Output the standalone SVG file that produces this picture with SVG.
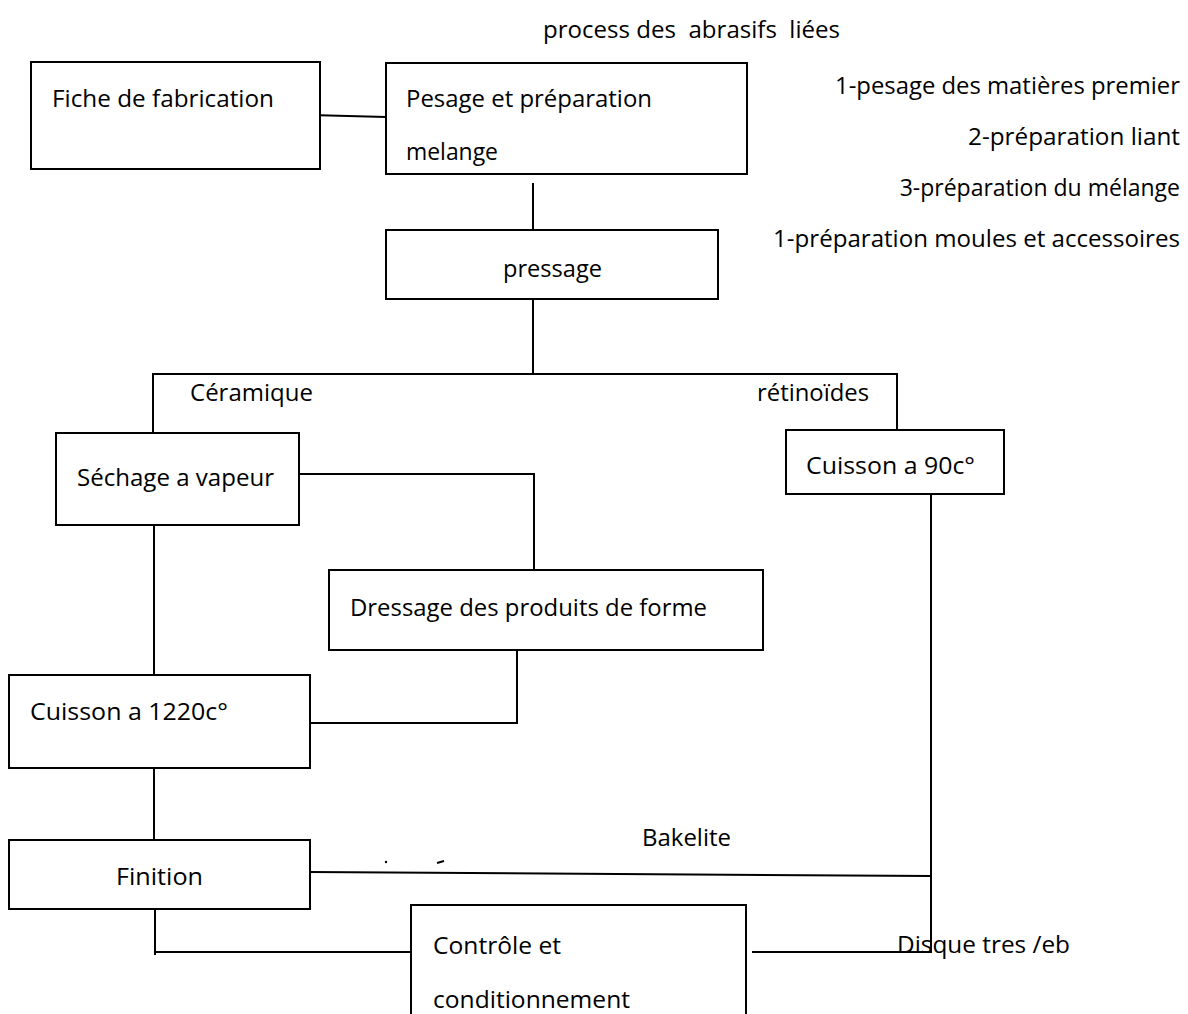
<svg xmlns="http://www.w3.org/2000/svg" width="1188" height="1014" viewBox="0 0 1188 1014">
<style>
.box{fill:#fff;stroke:#000;stroke-width:2}
.ln{fill:none;stroke:#000;stroke-width:2}
text{font-family:"Open Sans","Noto Sans","Liberation Sans",sans-serif;font-size:23px;fill:#000}
</style>
<rect width="1188" height="1014" fill="#fff"/>
<g id="labels">
<text x="543" y="38" textLength="297" lengthAdjust="spacingAndGlyphs" xml:space="preserve">process des  abrasifs  liées</text>
<text x="1180" y="94" text-anchor="end" textLength="345" lengthAdjust="spacingAndGlyphs">1-pesage des matières premier</text>
<text x="1180" y="145" text-anchor="end" textLength="212" lengthAdjust="spacingAndGlyphs">2-préparation liant</text>
<text x="1180" y="196" text-anchor="end">3-préparation du mélange</text>
<text x="1180" y="247" text-anchor="end" textLength="407" lengthAdjust="spacingAndGlyphs">1-préparation moules et accessoires</text>
<text x="190" y="401" textLength="123" lengthAdjust="spacingAndGlyphs">Céramique</text>
<text x="757" y="401" textLength="112" lengthAdjust="spacingAndGlyphs">rétinoïdes</text>
<text x="642" y="846" textLength="89" lengthAdjust="spacingAndGlyphs">Bakelite</text>
<text x="897" y="953" textLength="173" lengthAdjust="spacingAndGlyphs">Disque tres /eb</text>
</g>
<g id="connectors">
<line class="ln" x1="310" y1="115" x2="386" y2="117"/>
<line class="ln" x1="533" y1="183" x2="533" y2="230"/>
<line class="ln" x1="533" y1="283" x2="533" y2="374"/>
<polyline class="ln" points="153,433 153,374 897,374 897,430"/>
<polyline class="ln" points="286,474 534,474 534,570"/>
<line class="ln" x1="154" y1="500" x2="154" y2="675"/>
<polyline class="ln" points="517,650 517,723 311,723"/>
<line class="ln" x1="154" y1="768" x2="154" y2="840"/>
<line class="ln" x1="931" y1="485" x2="931" y2="953"/>
<line class="ln" x1="310" y1="872" x2="931" y2="876"/>
<polyline class="ln" points="155,909 155,955"/>
<line class="ln" x1="155" y1="952" x2="411" y2="952"/>
<line class="ln" x1="752" y1="952" x2="931" y2="952"/>
<circle cx="386" cy="862" r="1.2" fill="#000"/>
<line x1="437" y1="863" x2="444" y2="861" stroke="#000" stroke-width="2"/>
</g>
<g id="fiche">
<rect class="box" x="31" y="62" width="289" height="107"/>
<text x="52" y="107" textLength="222" lengthAdjust="spacingAndGlyphs">Fiche de fabrication</text>
</g>
<g id="pesage">
<rect class="box" x="386" y="63" width="361" height="111"/>
<text x="406" y="107" textLength="246" lengthAdjust="spacingAndGlyphs">Pesage et préparation</text>
<text x="406" y="160" textLength="92" lengthAdjust="spacingAndGlyphs">melange</text>
</g>
<g id="pressage">
<rect class="box" x="386" y="230" width="332" height="69"/>
<text x="503" y="277" textLength="99" lengthAdjust="spacingAndGlyphs">pressage</text>
</g>
<g id="sechage">
<rect class="box" x="56" y="433" width="243" height="92"/>
<text x="77" y="486" textLength="197" lengthAdjust="spacingAndGlyphs">Séchage a vapeur</text>
</g>
<g id="cuisson90">
<rect class="box" x="786" y="430" width="218" height="64"/>
<text x="806" y="474" textLength="169" lengthAdjust="spacingAndGlyphs">Cuisson a 90c°</text>
</g>
<g id="dressage">
<rect class="box" x="329" y="570" width="434" height="80"/>
<text x="350" y="616" textLength="357" lengthAdjust="spacingAndGlyphs">Dressage des produits de forme</text>
</g>
<g id="cuisson1220">
<rect class="box" x="9" y="675" width="301" height="93"/>
<text x="30" y="720" textLength="198" lengthAdjust="spacingAndGlyphs">Cuisson a 1220c°</text>
</g>
<g id="finition">
<rect class="box" x="9" y="840" width="301" height="69"/>
<text x="116" y="885" textLength="87" lengthAdjust="spacingAndGlyphs">Finition</text>
</g>
<g id="controle">
<rect class="box" x="411" y="905" width="335" height="120"/>
<text x="433" y="954" textLength="128" lengthAdjust="spacingAndGlyphs">Contrôle et</text>
<text x="433" y="1008" textLength="197" lengthAdjust="spacingAndGlyphs">conditionnement</text>
</g>
</svg>
